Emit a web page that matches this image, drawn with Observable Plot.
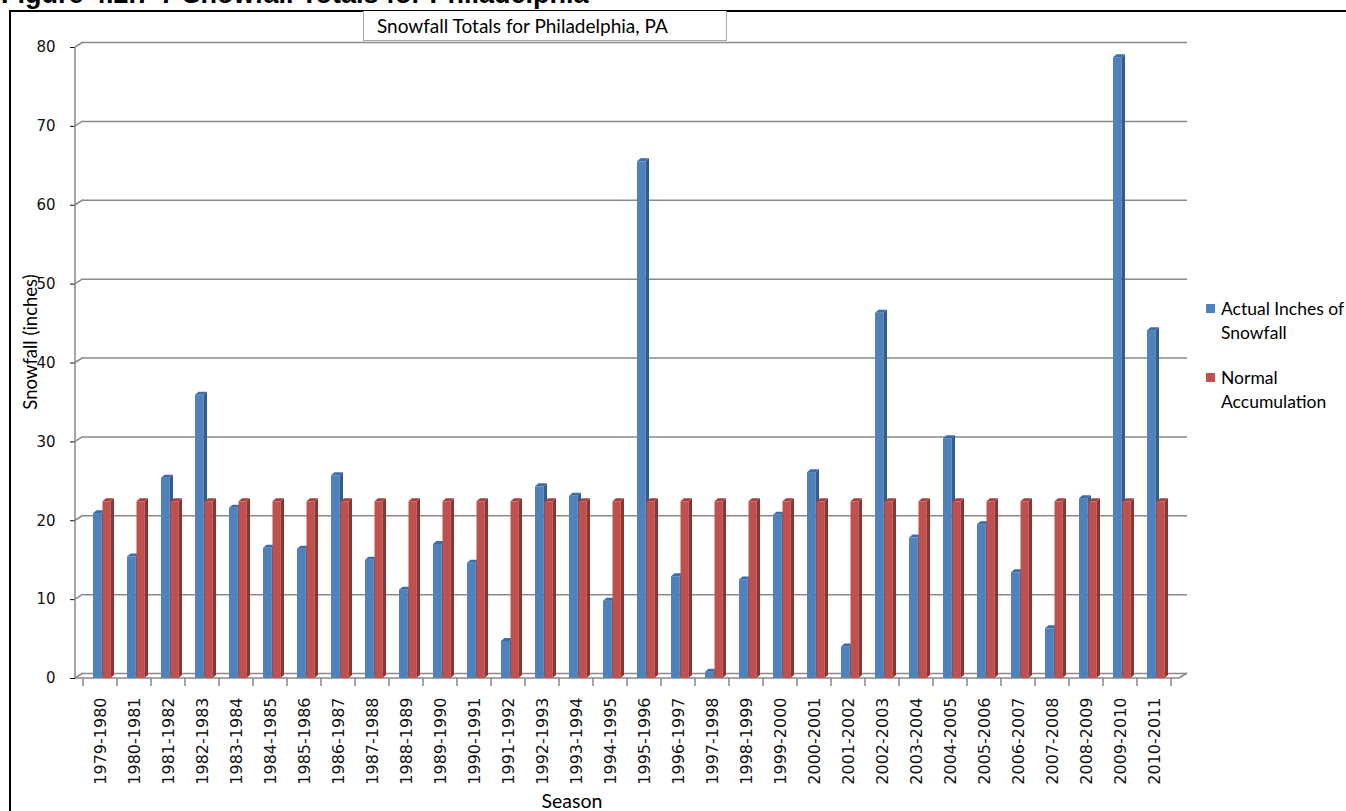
<!DOCTYPE html>
<html>
<head>
<meta charset="utf-8">
<script src="https://cdn.jsdelivr.net/npm/d3@7"></script>
<script src="https://cdn.jsdelivr.net/npm/@observablehq/plot@0.6"></script>
<style>
  html, body { margin: 0; padding: 0; background: #fff; }
  #wrap { position: relative; width: 1346px; height: 811px; overflow: hidden; background: #fff; }
  #chart { position: absolute; left: 0; top: 0; }
  #chart svg g[aria-label^="x-axis"] text { font-size: 16px; }
  #chart svg g[aria-label^="y-axis"] text { font-size: 15px; }
  .abs { position: absolute; white-space: nowrap; }
  #figtitle { left: 1px; top: -19px; font: bold 27px/27px "Liberation Sans", Arial, sans-serif; color: #000; }
  #border { left: 9px; top: 10px; width: 1400px; height: 900px; border-top: 2px solid #000; border-left: 2px solid #000; }
  #ctitle { left: 363px; top: 11px; width: 349px; height: 29px; padding-left: 13px; border: 1px solid #a6a6a6; border-top: none; background: #fff;
            font: 19px/29px Lato, sans-serif; text-align: left; color: #000; }
  #ylab { left: 30px; top: 342px; transform: translate(-50%, -50%) rotate(-90deg); font: 18.5px Lato, sans-serif; color: #000; }
  #xlab { left: 572px; top: 800px; transform: translate(-50%, -50%); font: 19.5px Lato, sans-serif; color: #000; }
  .leg { left: 1206px; font: 17.5px/24px Lato, sans-serif; color: #000; }
  .sw { position: absolute; left: 0; top: 7px; width: 9px; height: 9px; }
  .lt { position: absolute; left: 15px; top: 0; }
</style>
</head>
<body>
<div id="wrap">
  <div id="border" class="abs"></div>
  <div id="chart"></div>
  <div id="figtitle" class="abs">Figure 4.2.7-7 Snowfall Totals for Philadelphia</div>
  <div id="ctitle" class="abs">Snowfall Totals for Philadelphia, PA</div>
  <div id="ylab" class="abs">Snowfall (inches)</div>
  <div id="xlab" class="abs">Season</div>
  <div class="abs leg" style="top:297px"><div class="sw" style="background:#4f81bd"></div><div class="lt">Actual Inches of<br>Snowfall</div></div>
  <div class="abs leg" style="top:366px"><div class="sw" style="background:#c0504d"></div><div class="lt">Normal<br>Accumulation</div></div>
</div>
<script>
const seasons = ["1979-1980","1980-1981","1981-1982","1982-1983","1983-1984","1984-1985","1985-1986","1986-1987",
  "1987-1988","1988-1989","1989-1990","1990-1991","1991-1992","1992-1993","1993-1994","1994-1995","1995-1996",
  "1996-1997","1997-1998","1998-1999","1999-2000","2000-2001","2001-2002","2002-2003","2003-2004","2004-2005",
  "2005-2006","2006-2007","2007-2008","2008-2009","2009-2010","2010-2011"];
const actual = [20.9,15.4,25.4,35.9,21.6,16.5,16.4,25.7,15.0,11.2,17.0,14.6,4.7,24.3,23.1,9.8,65.5,12.9,0.8,12.5,
  20.7,26.1,4.0,46.3,17.8,30.4,19.5,13.4,6.3,22.8,78.7,44.1];
const normal = [22.4,22.4,22.4,22.4,22.4,22.4,22.4,22.4,22.4,22.4,22.4,22.4,22.4,22.4,22.4,22.4,22.4,22.4,22.4,22.4,
  22.4,22.4,22.4,22.4,22.4,22.4,22.4,22.4,22.4,22.4,22.4,22.4];
const yTicks = [0,10,20,30,40,50,60,70,80];

const rows = seasons.map((s, i) => ({season: s, actual: actual[i], normal: normal[i]}));

const W = 1346, H = 811, ML = 75, MR = 167, MT = 47, MB = 133;
const DX = 8, DY = -5;      // wall depth
const BD = 3.5, BE = -3;    // bar depth

function walls(index, scales, values, dims) {
  const x = scales.x, y = scales.y;
  const g = d3.create("svg:g").attr("stroke", "#898989").attr("stroke-width", 1.5).attr("fill", "none");
  const left = dims.marginLeft, right = dims.width - dims.marginRight;
  const y0 = y(0);
  g.append("line").attr("x1", left).attr("x2", left).attr("y1", y(yTicks[yTicks.length - 1])).attr("y2", y0);
  g.append("line").attr("x1", left).attr("x2", right).attr("y1", y0).attr("y2", y0);
  g.append("line").attr("x1", right).attr("x2", right + DX).attr("y1", y0).attr("y2", y0 + DY);
  for (const v of yTicks) {
    g.append("line").attr("x1", left).attr("x2", left + DX).attr("y1", y(v)).attr("y2", y(v) + DY);
  }
  const bw = x(seasons[1]) - x(seasons[0]);
  const xs = seasons.map(s => x(s)).concat([x(seasons[seasons.length - 1]) + bw]);
  for (const xv of xs) {
    g.append("line").attr("x1", xv).attr("x2", xv).attr("y1", y0).attr("y2", y0 + 8);
  }
  return g.node();
}

function depth(key, il, ir, sideColor, topColor) {
  return (index, scales) => {
    const x = scales.x, y = scales.y;
    const bw = x(seasons[1]) - x(seasons[0]);
    const g = d3.create("svg:g");
    const y0 = y(0);
    for (const d of rows) {
      const xl = x(d.season) + il, xr = x(d.season) + bw - ir, yt = y(d[key]);
      g.append("polygon").attr("fill", sideColor)
        .attr("points", `${xr},${y0} ${xr + BD},${y0 + BE} ${xr + BD},${yt + BE} ${xr},${yt}`);
      g.append("polygon").attr("fill", topColor)
        .attr("points", `${xl},${yt} ${xl + BD},${yt + BE} ${xr + BD},${yt + BE} ${xr},${yt}`);
    }
    return g.node();
  };
}

const chart = Plot.plot({
  width: W, height: H,
  marginLeft: ML, marginRight: MR, marginTop: MT, marginBottom: MB,
  style: {fontFamily: "'DejaVu Sans', Verdana, sans-serif", fontSize: "15px", color: "#111", background: "transparent"},
  x: {type: "band", domain: seasons, padding: 0, tickSize: 0, tickRotate: -90, tickPadding: 19, label: null},
  y: {domain: [0, 80], ticks: yTicks, tickSize: 5, tickPadding: 15, label: null},
  marks: [
    Plot.ruleY(yTicks, {y: d => d, dx: DX, dy: DY, stroke: "#898989", strokeWidth: 1.5}),
    walls,
    Plot.barY(rows, {x: "season", y: "actual", fill: "#4f81bd", insetLeft: 10, insetRight: 15.5}),
    depth("actual", 10, 15.5, "#335c8e", "#3e6da6"),
    Plot.barY(rows, {x: "season", y: "normal", fill: "#c0504d", insetLeft: 19.5, insetRight: 6.5}),
    depth("normal", 19.5, 6.5, "#8a3633", "#a5423f")
  ]
});
document.getElementById("chart").appendChild(chart);
</script>
</body>
</html>
